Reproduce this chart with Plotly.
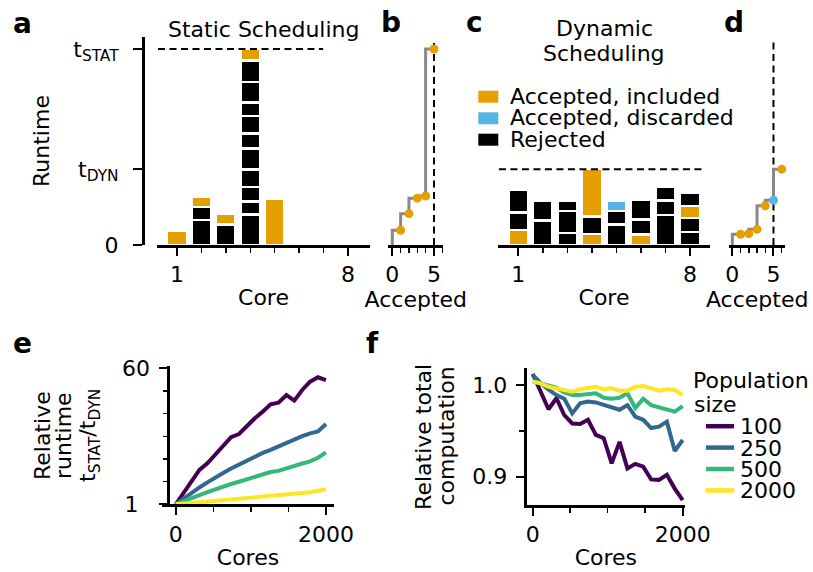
import plotly.graph_objects as go

W, H = 813, 572
FONT = "DejaVu Sans"
FS = 22

ORANGE, SKY, BLACK, GREY = "#E69F00", "#56B4E9", "#000000", "#888888"
KIND_COLOR = {"included": ORANGE, "discarded": SKY, "rejected": BLACK}
POP_COLORS = ["#440154", "#31688E", "#35B779", "#FDE725"]

# ---------------- data ----------------
T_STAT = 100.0
T_DYN = 38.7
N_REQUIRED = 5

# panel a: static scheduling, one entry per evaluated sample (stacked bottom->top)
static_core = [1, 2, 2, 2, 3, 3, 4, 4, 4, 4, 4, 4, 4, 4, 4, 4, 4, 5]
static_duration = [7.3, 12.9, 6.4, 5.5, 10.5, 5.3,
                   15.5, 6.7, 7.5, 8.8, 10.8, 7.6, 8.8, 6.9, 10.7, 10.8, 5.9, 23.6]
static_kind = ["included", "rejected", "rejected", "included", "rejected", "included",
               "rejected", "rejected", "rejected", "rejected", "rejected", "rejected",
               "rejected", "rejected", "rejected", "rejected", "included", "included"]

# panel c: dynamic scheduling
dynamic_core = [1, 1, 1, 2, 2, 3, 3, 3, 4, 4, 4, 5, 5, 5, 6, 6, 6, 7, 7, 7, 8, 8, 8, 8]
dynamic_duration = [7.8, 8.8, 11.6, 12.6, 10.2, 6.1, 11.1, 5.6, 5.6, 9.0, 24.1,
                    10.4, 7.0, 5.1, 5.4, 7.7, 10.2, 15.3, 7.5, 7.1, 6.5, 7.3, 6.1, 6.6]
dynamic_kind = ["included", "rejected", "rejected", "rejected", "rejected",
                "rejected", "rejected", "rejected", "included", "rejected", "included",
                "rejected", "rejected", "discarded", "included", "rejected", "rejected",
                "rejected", "rejected", "rejected", "rejected", "rejected", "included", "rejected"]

# panels b / d: time at which the n-th accepted sample is available
static_accepted = [0, 1, 2, 3, 4, 5]
static_acc_time = [0, 7.5, 16.0, 23.9, 25.0, 100.0]
static_acc_kind = ["included", "included", "included", "included", "included"]

dynamic_accepted = [0, 1, 2, 3, 4, 5, 6]
dynamic_acc_time = [0, 5.5, 5.8, 8.0, 20.0, 22.8, 38.7]
dynamic_acc_kind = ["included", "included", "included", "included", "discarded", "included"]

# panels e / f
cores = [1, 106, 211, 316, 422, 527, 632, 737, 842, 947,
         1053, 1158, 1263, 1368, 1474, 1579, 1684, 1789, 1894, 2000]
pop_sizes = ["100", "250", "500", "2000"]

rel_runtime_100 = [1, 5.8, 10.8, 15.9, 18.8, 22.4, 26.3, 30.1, 31.5, 35.0,
                   38.3, 41.2, 44.4, 45.1, 48.4, 46.0, 50.6, 54.2, 56.1, 54.9]
rel_runtime_250 = [1, 3.6, 6.0, 8.3, 10.5, 12.7, 14.6, 16.5, 18.3, 20.0,
                   21.7, 23.3, 24.6, 26.2, 27.8, 29.3, 30.6, 31.8, 32.6, 35.8]
rel_runtime_500 = [1, 2.2, 3.6, 5.0, 6.3, 7.6, 8.7, 9.8, 10.8, 11.9,
                   12.9, 13.8, 15.0, 15.5, 16.7, 17.7, 18.7, 19.6, 21.2, 23.5]
rel_runtime_2000 = [1, 1.3, 1.6, 1.9, 2.2, 2.5, 2.8, 3.1, 3.4, 3.7,
                    4.0, 4.3, 4.6, 4.9, 5.3, 5.6, 5.9, 6.2, 6.9, 7.4]

rel_comp_100 = [1.012, 0.994, 0.9735, 0.9855, 0.967, 0.958, 0.9575, 0.962, 0.9455, 0.942,
                0.9145, 0.938, 0.909, 0.914, 0.911, 0.897, 0.8965, 0.902, 0.887, 0.8745]
rel_comp_250 = [1.011, 1.002, 0.995, 0.989, 0.985, 0.969, 0.980, 0.982, 0.981, 0.978,
                0.976, 0.973, 0.978, 0.9655, 0.962, 0.953, 0.9545, 0.960, 0.928, 0.940]
rel_comp_500 = [1.004, 1.002, 1.000, 0.997, 0.992, 0.989, 0.989, 0.990, 0.991, 0.986,
                0.985, 0.986, 0.991, 0.975, 0.985, 0.978, 0.976, 0.974, 0.971, 0.977]
rel_comp_2000 = [1.0036, 1.0018, 0.998, 0.9964, 0.9945, 0.9927, 0.9953, 0.9964, 0.998, 0.9953,
                 0.9964, 0.9938, 0.9938, 0.998, 0.9989, 0.9964, 0.9938, 0.9953, 0.9945, 0.989]

rel_runtime = [rel_runtime_100, rel_runtime_250, rel_runtime_500, rel_runtime_2000]
rel_comp = [rel_comp_100, rel_comp_250, rel_comp_500, rel_comp_2000]

legend_c = [("Accepted, included", "included"),
            ("Accepted, discarded", "discarded"),
            ("Rejected", "rejected")]


def px(x):
    return x / W


def py(y):
    return 1 - y / H


fig = go.Figure()

# ---- a & c: stacked bars ----
for cores_l, durs, kinds, xa, ya in [(static_core, static_duration, static_kind, "x", "y"),
                                     (dynamic_core, dynamic_duration, dynamic_kind, "x3", "y3")]:
    for c, d, k in zip(cores_l, durs, kinds):
        fig.add_trace(go.Bar(
            x=[c], y=[d], width=0.8, xaxis=xa, yaxis=ya,
            marker=dict(color=KIND_COLOR[k], line=dict(color="white", width=2.4)),
            showlegend=False, hoverinfo="skip"))

# ---- b & d: step curves ----
for acc, tim, kinds, xa, ya in [(static_accepted, static_acc_time, static_acc_kind, "x2", "y2"),
                                (dynamic_accepted, dynamic_acc_time, dynamic_acc_kind, "x4", "y4")]:
    fig.add_trace(go.Scatter(x=acc, y=tim, mode="lines", xaxis=xa, yaxis=ya,
                             line=dict(color=GREY, width=3, shape="vh"),
                             showlegend=False, hoverinfo="skip"))
    fig.add_trace(go.Scatter(x=acc[1:], y=tim[1:], mode="markers", xaxis=xa, yaxis=ya,
                             marker=dict(color=[KIND_COLOR[k] for k in kinds], size=9,
                                         line=dict(width=0)),
                             showlegend=False, hoverinfo="skip", cliponaxis=False))

# ---- e & f: lines ----
for i, name in enumerate(pop_sizes):
    fig.add_trace(go.Scatter(x=cores, y=rel_runtime[i], mode="lines", xaxis="x5", yaxis="y5",
                             line=dict(color=POP_COLORS[i], width=4),
                             showlegend=False, hoverinfo="skip"))
    fig.add_trace(go.Scatter(x=cores, y=rel_comp[i], mode="lines", xaxis="x6", yaxis="y6",
                             line=dict(color=POP_COLORS[i], width=4),
                             showlegend=False, hoverinfo="skip"))

tickfont = dict(family=FONT, size=FS, color=BLACK)


def xax(d0, d1, rng, ticks, minor, title, anchor, standoff):
    return dict(domain=[px(d0), px(d1)], range=rng, anchor=anchor,
                tickvals=ticks, ticks="outside", ticklen=8, tickwidth=2, tickcolor=BLACK,
                minor=dict(tickvals=minor, ticks="outside", ticklen=4.5, tickwidth=1.5,
                           tickcolor=BLACK),
                showline=True, linewidth=3, linecolor=BLACK, showgrid=False, zeroline=False,
                tickfont=tickfont, automargin=False, fixedrange=True,
                title=dict(text=title, font=tickfont, standoff=standoff))


def yax_hidden(anchor, dom):
    return dict(domain=dom, range=[0, 106.1], visible=False, anchor=anchor, fixedrange=True)


top_dom = [py(245), py(37)]
layout = dict(
    width=W, height=H, margin=dict(l=0, r=0, t=0, b=0),
    paper_bgcolor="white", plot_bgcolor="white", barmode="stack", bargap=0,
    showlegend=False, font=dict(family=FONT, size=FS, color=BLACK),
    xaxis=xax(157, 370, [0.18, 8.9], [1, 8], [2, 3, 4, 5, 6, 7], "Core", "y", 4),
    yaxis=dict(domain=top_dom, range=[0, 106.1], anchor="free", position=px(143),
               tickvals=[0, T_DYN, T_STAT],
               ticktext=["0", "t<sub>DYN</sub>", "t<sub>STAT</sub>"],
               ticks="outside", ticklen=9, tickwidth=2, tickcolor=BLACK,
               showline=True, linewidth=3, linecolor=BLACK, showgrid=False, zeroline=False,
               tickfont=tickfont, automargin=False, fixedrange=True, ticklabelstandoff=10,
               title=dict(text="Runtime", font=tickfont, standoff=16)),
    xaxis2=xax(388.3, 443.3, [-0.48, 6.12], [0, 5], [1, 2, 3, 4, 6], "Accepted", "y2", 4),
    yaxis2=yax_hidden("x2", top_dom),
    xaxis3=xax(498, 710, [0.172, 8.815], [1, 8], [2, 3, 4, 5, 6, 7], "Core", "y3", 4),
    yaxis3=yax_hidden("x3", top_dom),
    xaxis4=xax(729.3, 785, [-0.37, 6.4], [0, 5], [1, 2, 3, 4, 6], "Accepted", "y4", 4),
    yaxis4=yax_hidden("x4", top_dom),
    xaxis5=xax(161.7, 334.3, [-186, 2111], [0, 2000], [500, 1000, 1500], "Cores", "y5", 4),
    yaxis5=dict(domain=[py(504.3), py(366)], range=[1, 61], anchor="free", position=px(168.3),
                tickvals=[1, 60], ticktext=["1\u00a0\u2009", "60"],
                ticks="outside", ticklen=8, tickwidth=2, tickcolor=BLACK,
                minor=dict(tickvals=[10.83, 20.67, 30.5, 40.33, 50.17], ticks="outside",
                           ticklen=4.5, tickwidth=1.5, tickcolor=BLACK),
                showline=True, linewidth=3, linecolor=BLACK, showgrid=False, zeroline=False,
                tickfont=tickfont, automargin=False, fixedrange=True, ticklabelstandoff=5),
    xaxis6=xax(526.7, 685, [-80, 2031], [0, 2000], [500, 1000, 1500], "Cores", "y6", 4),
    yaxis6=dict(domain=[py(505), py(368)], range=[0.8691, 1.0185], anchor="x6",
                tickvals=[0.9, 1.0], ticktext=["0.9", "1.0"],
                ticks="outside", ticklen=8, tickwidth=2, tickcolor=BLACK,
                minor=dict(tickvals=[0.95], ticks="outside", ticklen=4.5, tickwidth=1.5,
                           tickcolor=BLACK),
                showline=True, linewidth=3, linecolor=BLACK, showgrid=False, zeroline=False,
                tickfont=tickfont, automargin=False, fixedrange=True, ticklabelstandoff=4),
)
fig.update_layout(**layout)

# ---- reference lines ----
dash = "7px,4.5px"
fig.add_shape(type="line", xref="x", yref="y", x0=0.22, x1=6.98, y0=T_STAT, y1=T_STAT,
              line=dict(color=BLACK, width=2, dash=dash))
fig.add_shape(type="line", xref="x3", yref="y3", x0=0.21, x1=8.62, y0=T_DYN, y1=T_DYN,
              line=dict(color=BLACK, width=2, dash=dash))
fig.add_shape(type="line", xref="x2", yref="y2", x0=N_REQUIRED, x1=N_REQUIRED, y0=0, y1=103,
              line=dict(color=BLACK, width=2, dash=dash), layer="below")
fig.add_shape(type="line", xref="x4", yref="y4", x0=N_REQUIRED, x1=N_REQUIRED, y0=0, y1=105,
              line=dict(color=BLACK, width=2, dash=dash), layer="below")

# ---- text ----
def text(s, x, y, size=FS, xanchor="center", angle=0):
    fig.add_annotation(text=s, x=px(x), y=py(y), xref="paper", yref="paper", showarrow=False,
                       xanchor=xanchor, yanchor="middle", textangle=angle,
                       font=dict(family=FONT, size=size, color=BLACK))


for letter, lx, ly in [("a", 13.3, 33), ("b", 381.7, 32), ("c", 466.7, 32),
                       ("d", 725, 32), ("e", 13.3, 353), ("f", 366.7, 353)]:
    text("<b>%s</b>" % letter, lx - 2.7, ly - 9.7, size=28, xanchor="left")

text("Static Scheduling", 263.5, 29.1)
text("Dynamic", 604, 28.4)
text("Scheduling", 604, 53.6)

text("Relative", 43, 436, angle=-90)
text("runtime", 64, 436, angle=-90)
text("t<sub>STAT</sub>/t<sub>DYN</sub>", 90, 436, angle=-90)
text("Relative total", 423.4, 436.5, angle=-90)
text("computation", 446, 436.5, angle=-90)

# legend of panel c
for i, (label, kind) in enumerate(legend_c):
    cy = [96.7, 118.3, 139.7][i]
    fig.add_shape(type="rect", xref="paper", yref="paper", x0=px(478.3), x1=px(498.3),
                  y0=py(cy + 6), y1=py(cy - 6), fillcolor=KIND_COLOR[kind], line=dict(width=0))
    text(label, 508.3, [96.4, 117.7, 139.4][i], xanchor="left")

# legend of panel f
text("Population", 690.8, 380.7, xanchor="left")
text("size", 691.8, 404.1, xanchor="left")
for i, name in enumerate(pop_sizes):
    ly = [426.2, 447.6, 469.0, 490.4][i]
    fig.add_shape(type="line", xref="paper", yref="paper", x0=px(706), x1=px(734),
                  y0=py(ly), y1=py(ly), line=dict(color=POP_COLORS[i], width=4.5))
    text(name, 738.3, [426.4, 448, 469.7, 490.7][i], xanchor="left")

fig.write_html("out.html", config={"displayModeBar": False, "staticPlot": True},
               post_script="document.body.style.margin='0';")
